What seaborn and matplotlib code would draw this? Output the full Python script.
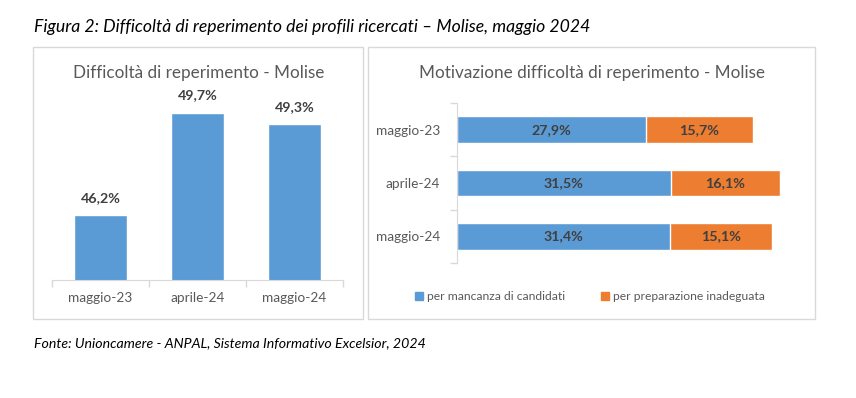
import pandas as pd
import seaborn as sns
import matplotlib.pyplot as plt
from matplotlib.patches import Rectangle

# data
periodi = ['maggio-23', 'aprile-24', 'maggio-24']
difficolta = [46.2, 49.7, 49.3]
mancanza = [27.9, 31.5, 31.4]
preparazione = [15.7, 16.1, 15.1]

BLUE = '#5B9BD5'
ORANGE = '#ED7D31'
GREY = '#595959'
DARK = '#404040'
LINE = '#D9D9D9'

sns.set_style('white')
plt.rcParams['font.family'] = ['Lato', 'DejaVu Sans']

W, H = 856, 398
fig = plt.figure(figsize=(W / 100, H / 100), dpi=100)


def fx(px):
    return px / W


def fy(py):
    return 1 - py / H


# panel frames
for x0, x1 in [(33, 363), (368, 815)]:
    fig.add_artist(Rectangle((fx(x0), fy(319)), fx(x1 - x0), (319 - 47) / H,
                             transform=fig.transFigure, fill=False, ec=LINE, lw=1))

fig.text(fx(34), fy(27), 'Figura 2: Difficoltà di reperimento dei profili ricercati – Molise, maggio 2024',
         fontsize=12.7, style='italic', va='center', ha='left', color='black')
fig.text(fx(34), fy(343), 'Fonte: Unioncamere - ANPAL, Sistema Informativo Excelsior, 2024',
         fontsize=10.2, style='italic', va='center', ha='left', color='black')

# left chart
df1 = pd.DataFrame({'periodo': periodi, 'valore': difficolta})
ax1 = fig.add_axes([fx(52), fy(280), fx(343 - 52), (280 - 89) / H])
sns.barplot(data=df1, x='periodo', y='valore', color=BLUE, width=0.55, saturation=1, ax=ax1)
ax1.set_ylim(44, 50.5)
ax1.set_xlim(-0.5, 2.5)
for c in ax1.containers:
    ax1.bar_label(c, labels=[f'{v:.1f}%'.replace('.', ',') for v in difficolta], padding=8,
                  fontsize=10.3, fontweight='bold', color=DARK)
ax1.set_xlabel('')
ax1.set_ylabel('')
ax1.set_yticks([])
ax1.set_xticks([-0.5, 0.5, 1.5, 2.5], minor=True)
ax1.tick_params(axis='x', which='major', length=0, pad=9, labelsize=9.8, labelcolor=GREY)
ax1.tick_params(axis='x', which='minor', length=5, color=LINE, width=1, bottom=True)
for s in ['top', 'right', 'left']:
    ax1.spines[s].set_visible(False)
ax1.spines['bottom'].set_color(LINE)
fig.text(fx(199), fy(73), 'Difficoltà di reperimento - Molise', fontsize=12.3, color=GREY,
         ha='center', va='center')

# right chart (stacked horizontal)
df2 = pd.DataFrame({'periodo': periodi, 'mancanza': mancanza, 'preparazione': preparazione})
df2['totale'] = df2['mancanza'] + df2['preparazione']
ax2 = fig.add_axes([fx(457), fy(263), fx(339), (263 - 103) / H])
sns.barplot(data=df2, y='periodo', x='totale', color=ORANGE, width=0.5, saturation=1, ax=ax2,
            orient='h')
sns.barplot(data=df2, y='periodo', x='mancanza', color=BLUE, width=0.5, saturation=1, ax=ax2,
            orient='h')
ax2.set_xlim(0, 50)
ax2.set_ylim(2.5, -0.5)
for i in range(len(periodi)):
    ax2.text(df2['mancanza'][i] / 2, i, f'{df2["mancanza"][i]:.1f}%'.replace('.', ','),
             ha='center', va='center', fontsize=10.3, fontweight='bold', color=DARK)
    ax2.text(df2['mancanza'][i] + df2['preparazione'][i] / 2, i,
             f'{df2["preparazione"][i]:.1f}%'.replace('.', ','),
             ha='center', va='center', fontsize=10.3, fontweight='bold', color=DARK)
ax2.set_xlabel('')
ax2.set_ylabel('')
ax2.set_xticks([])
ax2.set_yticks([-0.5, 0.5, 1.5, 2.5], minor=True)
ax2.tick_params(axis='y', which='major', length=0, pad=12, labelsize=9.8, labelcolor=GREY)
ax2.tick_params(axis='y', which='minor', length=5, color=LINE, width=1, left=True)
for s in ['top', 'right', 'bottom']:
    ax2.spines[s].set_visible(False)
ax2.spines['left'].set_color(LINE)
fig.text(fx(592), fy(73), 'Motivazione difficoltà di reperimento - Molise', fontsize=12.3, color=GREY,
         ha='center', va='center')

handles = [Rectangle((0, 0), 1, 1, color=BLUE), Rectangle((0, 0), 1, 1, color=ORANGE)]
fig.legend(handles, ['per mancanza di candidati', 'per preparazione inadeguata'],
           loc='center', bbox_to_anchor=(fx(590), fy(297)), ncol=2, frameon=False,
           fontsize=8.7, labelcolor=GREY, handlelength=0.65, handleheight=0.65,
           handletextpad=0.35, columnspacing=3.0)

fig.savefig('out.png', dpi=100)
